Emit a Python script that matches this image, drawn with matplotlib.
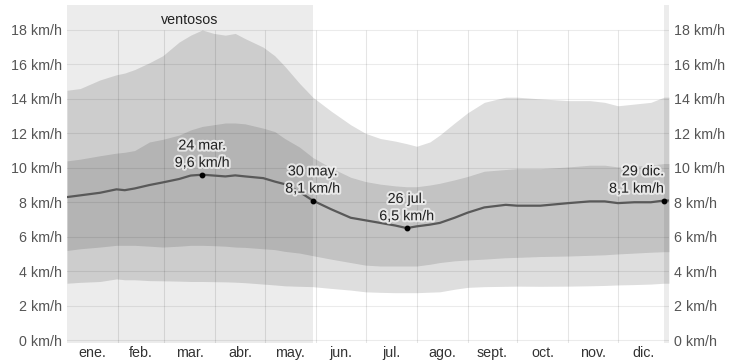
import matplotlib
matplotlib.use("Agg")
import matplotlib.pyplot as plt
import matplotlib.patheffects as pe

plt.rcParams['font.family'] = ['Liberation Sans', 'DejaVu Sans']

# day of year (0 = 1 Jan)
days = [0, 8, 20, 30, 35, 41, 50, 58, 68, 75, 82, 89, 96, 102, 108, 119, 126, 132, 141, 149,
        160, 172, 181, 190, 199, 206, 212, 220, 226, 235, 243, 253, 266, 273, 287, 304,
        317, 326, 334, 344, 354, 362, 365]
p90 = [14.5, 14.6, 15.1, 15.4, 15.5, 15.7, 16.1, 16.5, 17.3, 17.7, 18.0, 17.8, 17.7, 17.8, 17.5,
       17.0, 16.5, 15.9, 14.9, 14.1, 13.3, 12.5, 12.0, 11.7, 11.55, 11.4, 11.25, 11.5, 11.9,
       12.6, 13.2, 13.8, 14.1, 14.1, 14.0, 13.9, 13.9, 13.8, 13.6, 13.7, 13.8, 14.1, 14.1]
p75 = [10.4, 10.5, 10.7, 10.85, 10.9, 11.0, 11.5, 11.65, 11.9, 12.2, 12.4, 12.5, 12.6, 12.6, 12.55,
       12.3, 12.1, 11.7, 11.2, 10.6, 10.0, 9.45, 9.2, 9.05, 8.95, 8.9, 8.9, 9.0, 9.1,
       9.3, 9.5, 9.8, 9.9, 9.95, 9.95, 10.05, 10.15, 10.15, 10.05, 10.1, 10.15, 10.25, 10.25]
mean = [8.3, 8.4, 8.55, 8.75, 8.7, 8.8, 9.0, 9.15, 9.35, 9.55, 9.6, 9.55, 9.5, 9.56, 9.5,
        9.4, 9.2, 9.05, 8.6, 8.1, 7.6, 7.1, 6.95, 6.8, 6.65, 6.5, 6.6, 6.7, 6.8,
        7.1, 7.4, 7.7, 7.85, 7.8, 7.8, 7.95, 8.05, 8.05, 7.95, 8.0, 8.0, 8.1, 8.1]
p25 = [5.2, 5.3, 5.4, 5.5, 5.5, 5.5, 5.45, 5.4, 5.45, 5.5, 5.5, 5.48, 5.45, 5.4, 5.38,
       5.3, 5.25, 5.15, 5.05, 4.9, 4.7, 4.5, 4.35, 4.3, 4.3, 4.3, 4.3, 4.4, 4.5,
       4.6, 4.65, 4.7, 4.78, 4.8, 4.85, 4.88, 4.92, 4.95, 5.0, 5.05, 5.1, 5.13, 5.13]
p10 = [3.3, 3.35, 3.4, 3.55, 3.5, 3.5, 3.45, 3.44, 3.42, 3.4, 3.4, 3.39, 3.38, 3.36, 3.33,
       3.25, 3.2, 3.15, 3.12, 3.1, 3.0, 2.9, 2.8, 2.77, 2.75, 2.75, 2.75, 2.78, 2.8,
       2.95, 3.06, 3.1, 3.12, 3.13, 3.12, 3.13, 3.15, 3.17, 3.2, 3.22, 3.25, 3.3, 3.3]

month_starts = [0, 31, 59, 90, 120, 151, 181, 212, 243, 273, 304, 334, 365]
month_labels = ['ene.', 'feb.', 'mar.', 'abr.', 'may.', 'jun.', 'jul.', 'ago.',
                'sept.', 'oct.', 'nov.', 'dic.']
yticks = [0, 2, 4, 6, 8, 10, 12, 14, 16, 18]

windy_spans = [(0, 149), (362, 365)]
windy_label = 'ventosos'

ann_days = [82, 149, 206, 362]
ann_text = ['24 mar.\n9,6 km/h', '30 may.\n8,1 km/h', '26 jul.\n6,5 km/h', '29 dic.\n8,1 km/h']
ann_vals = [9.6, 8.1, 6.5, 8.1]

fig = plt.figure(figsize=(7.44, 3.63), dpi=100)
ax = fig.add_axes([67/744, 20/363, 602/744, 338/363])
ax.set_xlim(0, 365)
ax.set_ylim(-0.17, 19.45)

for a, b in windy_spans:
    ax.axvspan(a, b, color='#ececec', lw=0, zorder=0)

ax.fill_between(days, p10, p90, color='black', alpha=0.13, lw=0, zorder=1)
ax.fill_between(days, p25, p75, color='black', alpha=0.12, lw=0, zorder=2)

for y in yticks:
    ax.axhline(y, color='black', alpha=0.08, lw=0.8, zorder=3)
ax.vlines(month_starts[1:-1], -0.17, 18, color='black', alpha=0.1, lw=0.8, zorder=3)

ax.plot(days, mean, color='#595959', lw=1.6, zorder=4)

halo = [pe.withStroke(linewidth=3, foreground='#f2f2f2', alpha=0.8)]
for d, t, v in zip(ann_days, ann_text, ann_vals):
    ax.plot([d], [v], 'o', color='black', ms=3.2, zorder=5)
    ha = 'right' if d > 350 else 'center'
    ax.annotate(t, (d, v), xytext=(0, 3.5), textcoords='offset points',
                ha=ha, va='bottom', fontsize=10.3, color='#222222',
                linespacing=1.3, path_effects=halo, zorder=6)

ax.text((windy_spans[0][0] + windy_spans[0][1]) / 2, 18.6, windy_label,
        ha='center', va='center', fontsize=10.3, color='#222222')

ax.set_yticks(yticks)
ax.set_yticklabels([f'{y} km/h' for y in yticks])
ax.tick_params(axis='y', length=0, pad=3.5, labelsize=10.3, labelcolor='#555555')
mids = [(month_starts[i] + month_starts[i + 1]) / 2 for i in range(12)]
ax.set_xticks(mids)
ax.set_xticklabels(month_labels)
ax.tick_params(axis='x', length=0, pad=2, labelsize=10.3, labelcolor='#333333')
for s in ax.spines.values():
    s.set_visible(False)

ax2 = ax.twinx()
ax2.set_ylim(ax.get_ylim())
ax2.set_yticks(yticks)
ax2.set_yticklabels([f'{y} km/h' for y in yticks])
ax2.tick_params(axis='y', length=0, pad=3.5, labelsize=10.3, labelcolor='#555555')
for s in ax2.spines.values():
    s.set_visible(False)

fig.savefig('out.png', dpi=100)
